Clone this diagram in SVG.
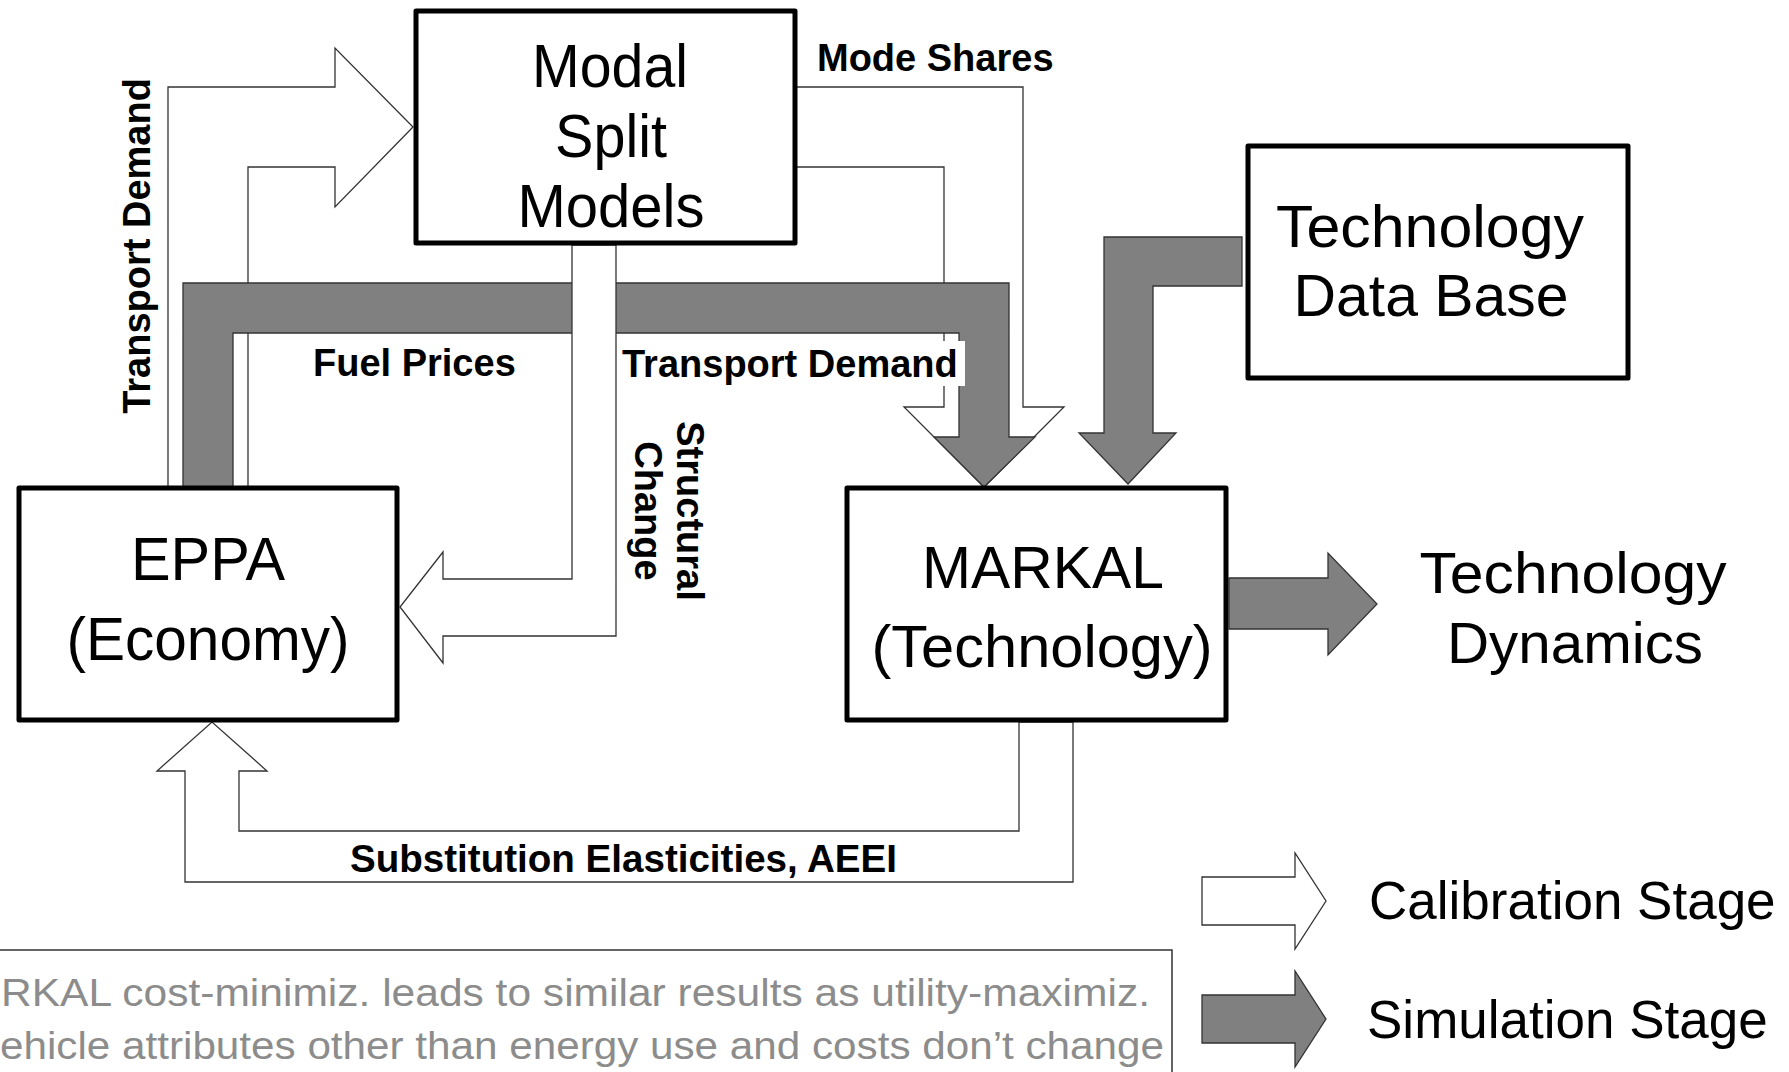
<svg xmlns="http://www.w3.org/2000/svg" width="1789" height="1072" viewBox="0 0 1789 1072">
<style>
.box{fill:#fff;stroke:#000;stroke-width:5;stroke-linejoin:round}
.cal{fill:#fff;stroke:#333;stroke-width:1.3;stroke-linejoin:miter}
.sim{fill:#808080;stroke:#333;stroke-width:1.3;stroke-linejoin:miter}
.node{font-family:"Liberation Sans",Arial,sans-serif;fill:#000;text-anchor:middle}
.lbl{font-family:"Liberation Sans",Arial,sans-serif;font-size:38px;font-weight:bold;fill:#000}
.note{font-family:"Liberation Sans",Arial,sans-serif;font-size:38px;fill:#8c8c8c}
.leg{font-family:"Liberation Sans",Arial,sans-serif;font-size:53px;fill:#000}
</style>
<rect width="1789" height="1072" fill="#fff"/>

<g id="connectors">
  <polygon id="c-transport-demand-calib" class="cal" points="168,488 168,87 335,87 335,48 413,127 335,207 335,167 248,167 248,488"/>
  <polygon id="c-mode-shares" class="cal" points="795,87 1023,87 1023,407 1064,407 984,487 904,407 944,407 944,167 795,167"/>
  <polygon id="c-fuel-prices-transport-demand" class="sim" points="183,488 183,283 1009,283 1009,437 1035,437 984,487 934,437 959,437 959,333 233,333 233,488"/>
  <polygon id="c-structural-change" class="cal" points="572,245 572,579 443,579 443,552 400,607 443,663 443,636 616,636 616,245"/>
  <polygon id="c-techdb-markal" class="sim" points="1242,237 1104,237 1104,433 1079,433 1128,484 1176,433 1153,433 1153,286 1242,286"/>
  <polygon id="c-tech-dynamics" class="sim" points="1229,578 1328,578 1328,553 1377,604 1328,655 1328,629 1229,629"/>
  <polygon id="c-substitution" class="cal" points="1019,722 1019,831 239,831 239,771 267,771 212,722 157,771 185,771 185,882 1073,882 1073,722"/>
  <g id="connector-labels">
    <text class="lbl" x="817" y="71">Mode Shares</text>
    <text class="lbl" x="313" y="376">Fuel Prices</text>
    <rect x="620" y="341" width="345" height="45" fill="#fff"/>
    <text class="lbl" x="622" y="377">Transport Demand</text>
    <text class="lbl" text-anchor="middle" transform="translate(150,246) rotate(-90)">Transport Demand</text>
    <text class="lbl" text-anchor="middle" transform="translate(677,511) rotate(90)">Structural</text>
    <text class="lbl" text-anchor="middle" transform="translate(635,511) rotate(90)">Change</text>
    <text class="lbl" x="350" y="872" textLength="547" lengthAdjust="spacingAndGlyphs">Substitution Elasticities, AEEI</text>
  </g>
</g>

<g id="node-modal-split">
  <rect class="box" x="416" y="11" width="379" height="232"/>
  <text class="node" font-size="61" x="610" y="87" textLength="156" lengthAdjust="spacingAndGlyphs">Modal</text>
  <text class="node" font-size="61" x="611" y="157" textLength="112" lengthAdjust="spacingAndGlyphs">Split</text>
  <text class="node" font-size="61" x="611" y="227" textLength="187" lengthAdjust="spacingAndGlyphs">Models</text>
</g>

<g id="node-eppa">
  <rect class="box" x="19" y="488" width="378" height="232"/>
  <text class="node" font-size="62" x="208" y="580" textLength="154" lengthAdjust="spacingAndGlyphs">EPPA</text>
  <text class="node" font-size="62" x="208" y="660" textLength="283" lengthAdjust="spacingAndGlyphs">(Economy)</text>
</g>

<g id="node-markal">
  <rect class="box" x="847" y="488" width="379" height="232"/>
  <text class="node" font-size="59" x="1043" y="588" textLength="242" lengthAdjust="spacingAndGlyphs">MARKAL</text>
  <text class="node" font-size="59" x="1042" y="667" textLength="341" lengthAdjust="spacingAndGlyphs">(Technology)</text>
</g>

<g id="node-tech-database">
  <rect class="box" x="1248" y="146" width="380" height="232"/>
  <text class="node" font-size="59" x="1430" y="247" textLength="308" lengthAdjust="spacingAndGlyphs">Technology</text>
  <text class="node" font-size="59" x="1431" y="316" textLength="275" lengthAdjust="spacingAndGlyphs">Data Base</text>
</g>

<g id="node-tech-dynamics">
  <text class="node" font-size="58" x="1573" y="593" textLength="307" lengthAdjust="spacingAndGlyphs">Technology</text>
  <text class="node" font-size="58" x="1575" y="663" textLength="256" lengthAdjust="spacingAndGlyphs">Dynamics</text>
</g>

<g id="legend-calibration">
  <polygon class="cal" points="1202,877 1295,877 1295,853 1326,901 1295,949 1295,925 1202,925"/>
  <text class="leg" x="1369" y="919">Calibration Stage</text>
</g>

<g id="legend-simulation">
  <polygon class="sim" points="1202,995 1295,995 1295,971 1326,1019 1295,1067 1295,1043 1202,1043"/>
  <text class="leg" x="1367" y="1038">Simulation Stage</text>
</g>

<g id="note-box">
  <rect x="-10" y="950" width="1182" height="160" fill="#fff" stroke="#333" stroke-width="1.5"/>
  <text class="note" x="1" y="1006" textLength="1149" lengthAdjust="spacingAndGlyphs">RKAL cost-minimiz. leads to similar results as utility-maximiz.</text>
  <text class="note" x="0" y="1059" textLength="1164" lengthAdjust="spacingAndGlyphs">ehicle attributes other than energy use and costs don’t change</text>
</g>
</svg>
